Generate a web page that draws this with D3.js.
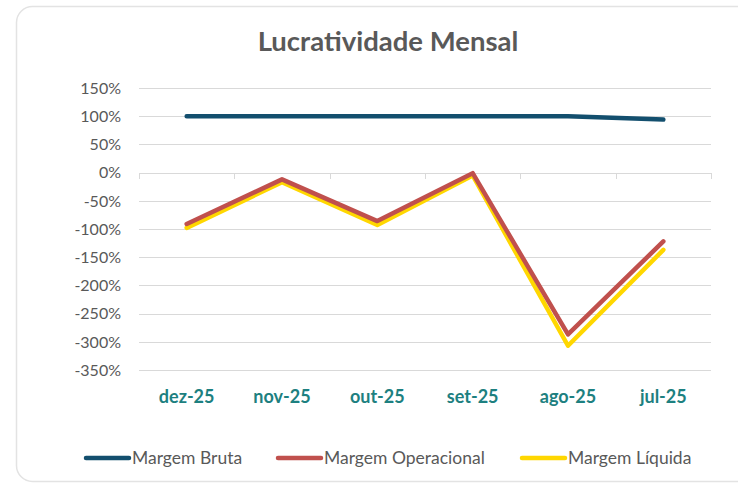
<!DOCTYPE html>
<html>
<head>
<meta charset="utf-8">
<script src="https://cdn.jsdelivr.net/npm/d3@7"></script>
<style>
  body { margin: 0; background: #fff; }
  svg { display: block; font-family: Lato, "Open Sans", sans-serif; }
</style>
</head>
<body>
<div id="chart"></div>
<script>
const width = 738;
const height = 484;

// data
const months = ["dez-25", "nov-25", "out-25", "set-25", "ago-25", "jul-25"];
const margemBruta = [100, 100, 100, 100, 100, 94];
const margemOperacional = [-91, -12, -86, -1, -287, -122];
const margemLiquida = [-98, -17, -93, -5, -307, -137];
const yTicks = [150, 100, 50, 0, -50, -100, -150, -200, -250, -300, -350];

const series = [
  { name: "Margem Bruta", values: margemBruta, color: "#134f6e" },
  { name: "Margem Operacional", values: margemOperacional, color: "#c0504d" },
  { name: "Margem Líquida", values: margemLiquida, color: "#ffd700" }
];

const margin = { top: 88, right: 27, bottom: 114, left: 139 };

const svg = d3.select("#chart").append("svg")
  .attr("width", width)
  .attr("height", height);

// card background
svg.append("rect")
  .attr("x", 16.5).attr("y", 6.5)
  .attr("width", 760).attr("height", 475)
  .attr("rx", 16)
  .attr("fill", "#fff")
  .attr("stroke", "#e3e3e3")
  .attr("stroke-width", 1.5);

svg.append("text")
  .attr("x", 388).attr("y", 51)
  .attr("text-anchor", "middle")
  .attr("font-size", 27.5)
  .attr("font-weight", "bold")
  .attr("fill", "#595959")
  .text("Lucratividade Mensal");

const x = d3.scaleBand()
  .domain(months)
  .range([margin.left, width - margin.right]);

const y = d3.scaleLinear()
  .domain([-350, 150])
  .range([height - margin.bottom, margin.top]);

// gridlines
svg.append("g")
  .selectAll("line")
  .data(yTicks)
  .join("line")
  .attr("x1", margin.left).attr("x2", width - margin.right)
  .attr("y1", d => Math.round(y(d)) + 0.5)
  .attr("y2", d => Math.round(y(d)) + 0.5)
  .attr("stroke", "#d9d9d9")
  .attr("stroke-width", 1);

// y axis labels
svg.append("g")
  .selectAll("text")
  .data(yTicks)
  .join("text")
  .attr("x", 121)
  .attr("y", d => y(d))
  .attr("dy", "0.36em")
  .attr("text-anchor", "end")
  .attr("font-size", 16)
  .attr("fill", "#595959")
  .text(d => d + "%");

// category ticks on the zero line
const bounds = months.map(m => x(m)).concat([x.range()[1]]);
svg.append("g")
  .selectAll("line")
  .data(bounds)
  .join("line")
  .attr("x1", d => Math.round(d) + 0.5).attr("x2", d => Math.round(d) + 0.5)
  .attr("y1", Math.round(y(0))).attr("y2", Math.round(y(0)) + 6)
  .attr("stroke", "#d9d9d9");

// x labels
svg.append("g")
  .selectAll("text")
  .data(months)
  .join("text")
  .attr("x", d => x(d) + x.bandwidth() / 2)
  .attr("y", 403)
  .attr("text-anchor", "middle")
  .attr("font-size", 18)
  .attr("font-weight", "bold")
  .attr("fill", "#1d8080")
  .text(d => d);

const line = d3.line()
  .x((d, i) => x(months[i]) + x.bandwidth() / 2)
  .y(d => y(d));

svg.append("g")
  .selectAll("path")
  .data(series.slice().reverse())
  .join("path")
  .attr("d", d => line(d.values))
  .attr("fill", "none")
  .attr("stroke", d => d.color)
  .attr("stroke-width", 4.5)
  .attr("stroke-linejoin", "round")
  .attr("stroke-linecap", "round");

// legend
const legendX = [86, 278, 522];
const legend = svg.append("g")
  .selectAll("g")
  .data(series)
  .join("g")
  .attr("transform", (d, i) => `translate(${legendX[i]}, 458)`);

legend.append("line")
  .attr("x1", 0).attr("x2", 43)
  .attr("stroke", d => d.color)
  .attr("stroke-width", 4.5)
  .attr("stroke-linecap", "round");

legend.append("text")
  .attr("x", 46)
  .attr("dy", "0.35em")
  .attr("font-size", 17.5)
  .attr("fill", "#595959")
  .text(d => d.name);
</script>
</body>
</html>
